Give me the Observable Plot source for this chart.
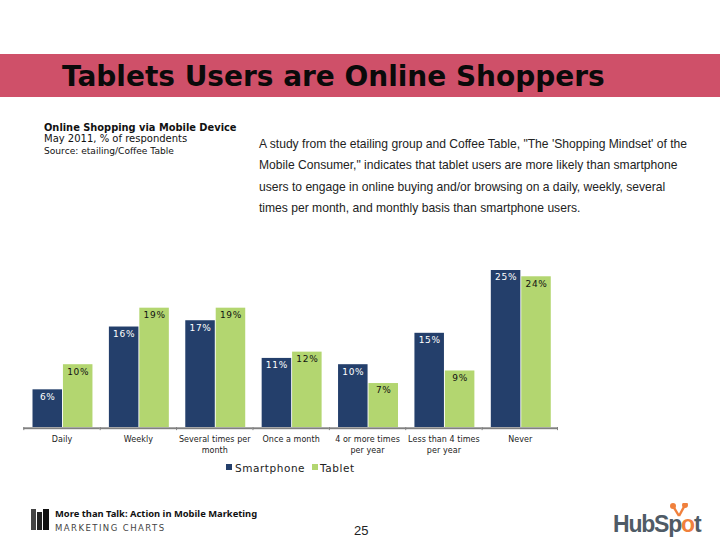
<!DOCTYPE html>
<html><head><meta charset="utf-8">
<script src="https://cdn.jsdelivr.net/npm/d3@7"></script>
<script src="https://cdn.jsdelivr.net/npm/@observablehq/plot@0.6"></script>
<style>
html,body{margin:0;padding:0;background:#fff;width:720px;height:540px;overflow:hidden;position:relative}
.a{position:absolute;white-space:nowrap;line-height:1}
#band{left:0;top:54px;width:720px;height:43px;background:#cf5069}
#title{left:62px;top:60px;font:bold 28px "DejaVu Sans";color:#0a0a0a;letter-spacing:-.02px}
.sub{left:44px;font:10px "DejaVu Sans";color:#111}
.body{left:259px;font:12.1px "Liberation Sans";color:#222}
#chart{position:absolute;left:0;top:240px}
#chart text{letter-spacing:.7px}
#chart .ticklab text{letter-spacing:.06px}
.leg{font:10.5px "DejaVu Sans";color:#222;letter-spacing:.55px;top:462px}
.sw{width:6px;height:6px;top:464px}
</style></head><body>
<div class="a" id="band"></div>
<div class="a" id="title"></div>
<div id="sub"></div>
<div id="body"></div>
<div id="chart"></div>
<div class="a sw" style="left:226px;background:#243f6b"></div>
<div class="a leg" style="left:235px">Smartphone</div>
<div class="a sw" style="left:312px;background:#b3d670"></div>
<div class="a leg" style="left:320px">Tablet</div>
<div class="a" style="left:31px;top:509px;width:5px;height:21px;background:#444"></div>
<div class="a" style="left:37px;top:512px;width:5px;height:18px;background:#222"></div>
<div class="a" style="left:43px;top:509px;width:6px;height:21px;background:#111"></div>
<div class="a" style="left:55px;top:507px;font:bold 9.4px 'Noto Sans';color:#111">More than Talk: Action in Mobile Marketing</div>
<div class="a" style="left:55px;top:522.5px;font:8.5px 'DejaVu Sans';letter-spacing:1.45px;color:#444">MARKETING CHARTS</div>
<div class="a" style="left:354px;top:523px;font:13px 'Liberation Sans';color:#222">25</div>
<div class="a" style="left:613px;top:511px;font:bold 23px 'Liberation Sans';color:#4f5b66;letter-spacing:-1.2px">HubSp<span style="color:#f0803c">o</span>t</div>
<svg class="a" style="left:670px;top:503px" width="22" height="16"><g stroke="#f0803c" stroke-width="2.4" fill="#f0803c"><line x1="3" y1="3" x2="9" y2="13"/><line x1="15" y1="2" x2="9" y2="13"/><circle cx="3" cy="3" r="1.8"/><circle cx="15" cy="2" r="1.8"/></g></svg>
<script>
const titleText = "Tablets Users are Online Shoppers";
const subLines = ["Online Shopping via Mobile Device", "May 2011, % of respondents", "Source: etailing/Coffee Table"];
const bodyLines = [
  "A study from the etailing group and Coffee Table, \"The 'Shopping Mindset' of the",
  "Mobile Consumer,\" indicates that tablet users are more likely than smartphone",
  "users to engage in online buying and/or browsing on a daily, weekly, several",
  "times per month, and monthly basis than smartphone users."
];
const categories = ["Daily","Weekly","Several times per month","Once a month","4 or more times per year","Less than 4 times per year","Never"];
const categoryLabels = ["Daily","Weekly","Several times per\nmonth","Once a month","4 or more times\nper year","Less than 4 times\nper year","Never"];
const seriesNames = ["Smartphone","Tablet"];
const smartphone = [6,16,17,11,10,15,25];
const tablet = [10,19,19,12,7,9,24];
const seriesColors = ["#243f6b","#b3d670"];
const labelColors = ["#ffffff","#111111"];

document.getElementById("title").textContent = titleText;
const subTops = [121.5,133,146], bodyTops = [136.5,158,179.5,201];
document.getElementById("sub").innerHTML = subLines.map((t,i)=>`<div class="a sub" style="top:${subTops[i]}px;${i==0?'font-weight:bold;font-size:9.85px':i==2?'font-size:9.1px':''}">${t}</div>`).join("");
const bodyEl = document.getElementById("body");
bodyLines.forEach((t,i)=>{const d=document.createElement("div");d.className="a body";d.style.top=bodyTops[i]+"px";d.textContent=t;bodyEl.appendChild(d);});

const rows = categories.flatMap((c,i)=>[
  {category:c, series:seriesNames[0], value:smartphone[i]},
  {category:c, series:seriesNames[1], value:tablet[i]}
]);
const axisColor = "#808080";
const chart = Plot.plot({
  width:720, height:240,
  marginLeft:23.3, marginRight:162, marginTop:30, marginBottom:53,
  style:{background:"transparent", overflow:"visible"},
  fx:{domain:categories, padding:0, round:false, label:null},
  x:{domain:seriesNames, paddingInner:0.03, paddingOuter:0.27, align:0.56, round:false, axis:null},
  y:{domain:[0,25], axis:null},
  color:{domain:seriesNames, range:seriesColors},
  marks:[
    Plot.barY(rows,{fx:"category", x:"series", y:"value", fill:"series"}),
    Plot.rect(categories,{fx:d=>d, y1:-0.05, y2:-0.35, fill:axisColor}),
    Plot.rect(categories,{fx:d=>d, y1:0, y2:-0.5, fill:axisColor, insetRight:75.4}),
    Plot.rect(categories.slice(-1),{fx:d=>d, y1:0, y2:-0.5, fill:axisColor, insetLeft:75.4}),
    Plot.text(rows,{fx:"category", x:"series", y:"value", text:d=>d.value+"%", dy:7,
      fill:d=>labelColors[seriesNames.indexOf(d.series)], fontSize:9, fontFamily:"DejaVu Sans"}),
    Plot.axisFx({anchor:"bottom", tickSize:0, tickPadding:7, label:null, fontSize:8,
      fontFamily:"DejaVu Sans", fill:"#222", lineHeight:1.35, className:"ticklab",
      tickFormat:c=>categoryLabels[categories.indexOf(c)]})
  ]
});
document.getElementById("chart").appendChild(chart);
</script>
</body></html>
